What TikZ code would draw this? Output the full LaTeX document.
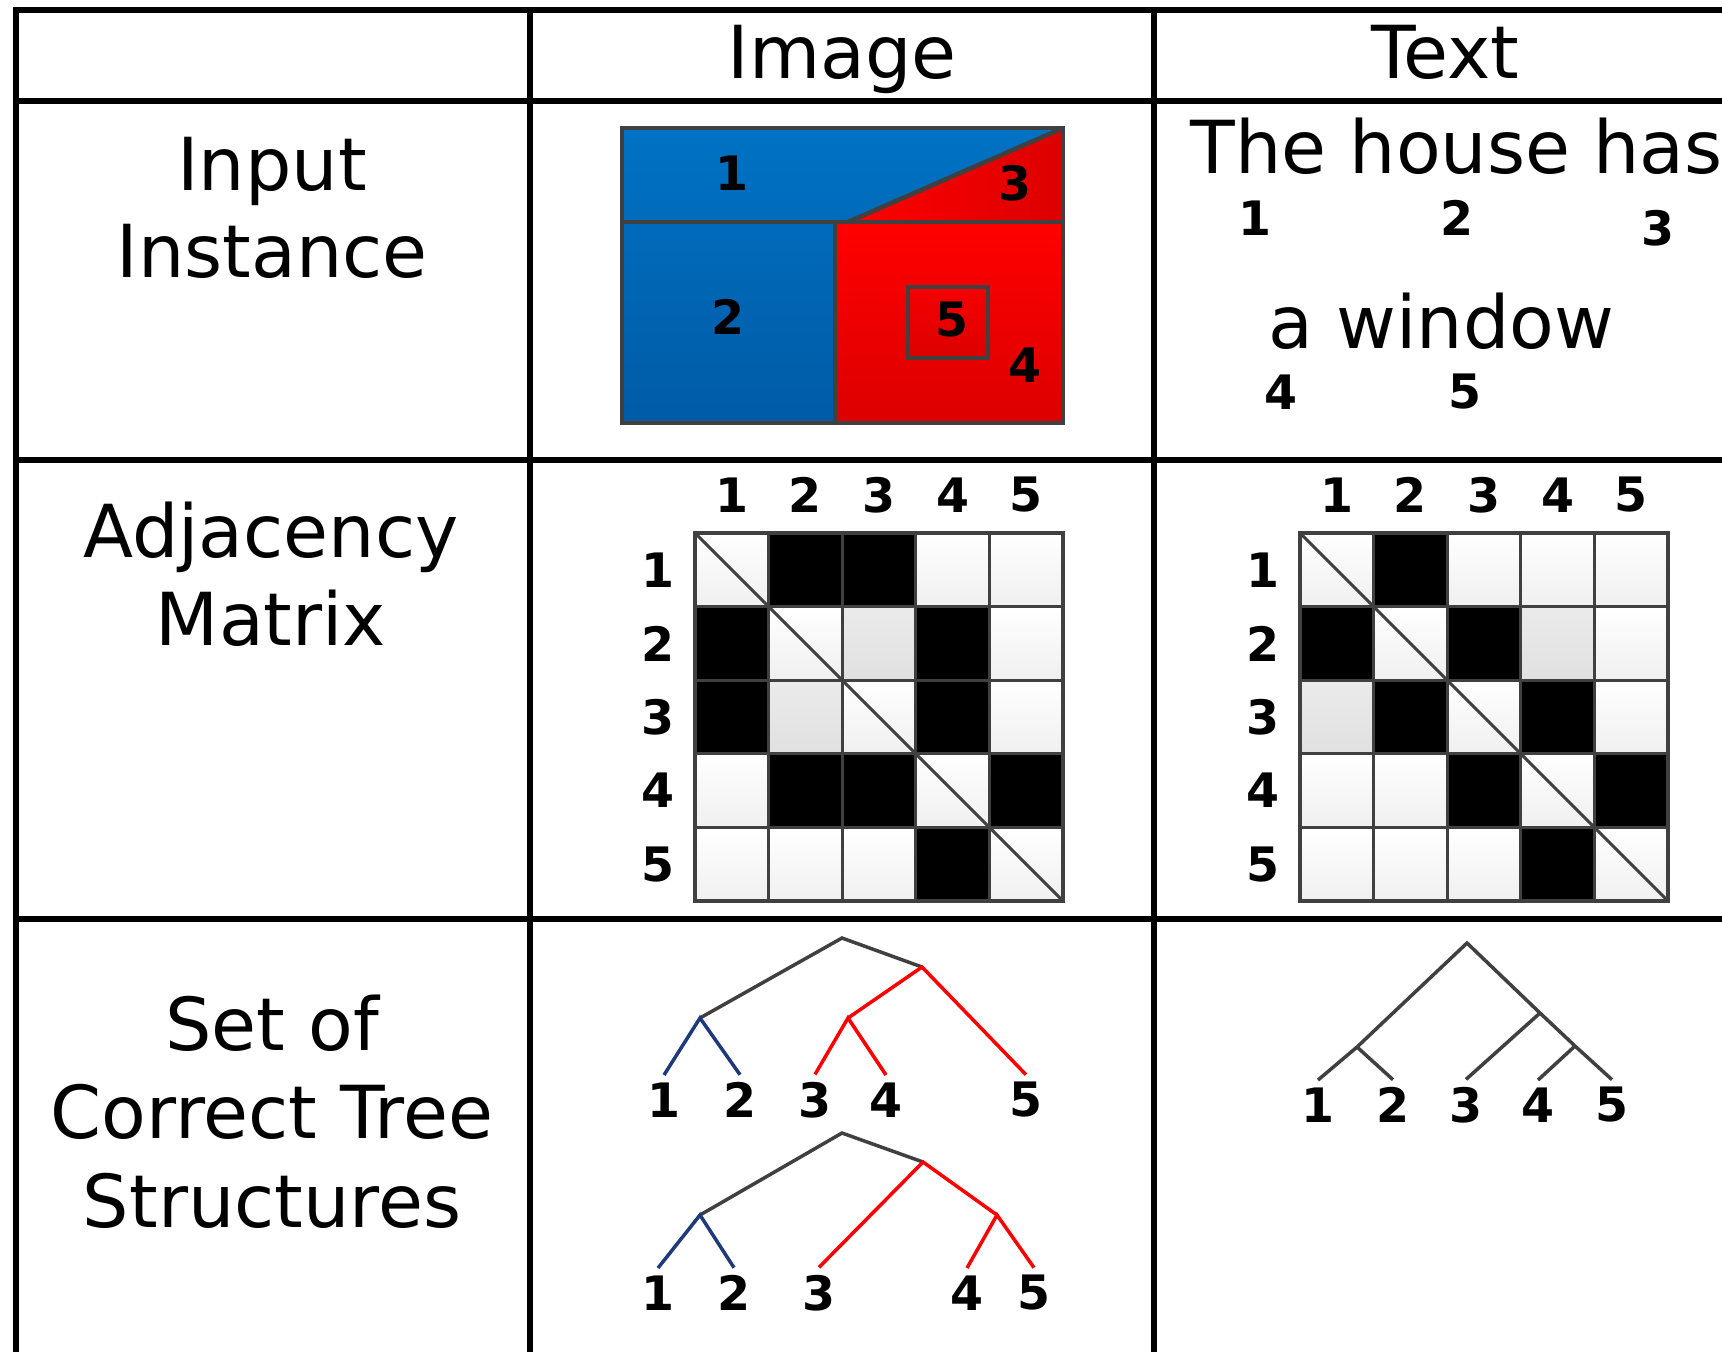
\documentclass[tikz,border=0pt]{standalone}
\usepackage{fontspec}
\setmainfont{DejaVu Sans}
\definecolor{edgegrey}{HTML}{404040}
\definecolor{regionblue}{HTML}{0072C4}
\definecolor{regionbluedark}{HTML}{005BA6}
\definecolor{regionred}{HTML}{FF0000}
\definecolor{regionreddark}{HTML}{DC0000}
\definecolor{treenavy}{HTML}{1F3A7A}

\tikzset{
	tablerule/.style={line width=0.6mm, black},
	headtext/.style={anchor=base, inner sep=0pt, font=\fontsize{20.8}{25}\selectfont},
	numlabel/.style={inner sep=0.7mm, font=\fontsize{13.5}{16}\selectfont\bfseries},
	outline/.style={draw=edgegrey, line width=0.45mm},
	gridrule/.style={edgegrey, line width=0.3mm},
	blankcell/.style={top color=white, bottom color=black!6},
	palecell/.style={top color=black!8, bottom color=black!12},
	trunk/.style={edgegrey, line width=0.35mm},
	leftbranch/.style={treenavy, line width=0.35mm},
	rightbranch/.style={regionred, line width=0.35mm},
}

\begin{document}
\begin{tikzpicture}[x=0.1mm, y=-0.1mm]
	\useasboundingbox (0,0) rectangle (1722,1352);
	\fill[white] (0,0) rectangle (1722,1352);

	% table rules
	\draw[tablerule] (1722,10) -- (16,10) -- (16,1352);
	\foreach \y in {101,460,919}
		\draw[tablerule] (16,\y) -- (1722,\y);
	\foreach \x in {530,1154}
		\draw[tablerule] (\x,10) -- (\x,1352);

	% headers
	\node[headtext] (hdimage) at (842,78) {Image};
	\node[headtext] (hdtext) at (1445,78) {Text};
	\node[headtext] (rowin1) at (272,190) {Input};
	\node[headtext] (rowin2) at (272,277) {Instance};
	\node[headtext] (rowadj1) at (271,557) {Adjacency};
	\node[headtext] (rowadj2) at (271,645) {Matrix};
	\node[headtext] (rowtree1) at (272,1050) {Set of};
	\node[headtext] (rowtree2) at (272,1138) {Correct Tree};
	\node[headtext] (rowtree3) at (272,1227) {Structures};

	% input image
	\fill[top color=regionblue, bottom color=regionbluedark] (622,128) -- (1063,128) -- (848,222) -- (835,222) -- (835,423) -- (622,423) -- cycle;
	\fill[top color=regionred, bottom color=regionreddark] (835,222) rectangle (1063,423);
	\fill[left color=regionred, right color=regionreddark] (848,222) -- (1063,128) -- (1063,222) -- cycle;
	\fill[top color=regionred!96!black, bottom color=regionreddark] (908,287) rectangle (988,358);
	\draw[outline] (622,128) rectangle (1063,423);
	\draw[outline] (622,222) -- (1063,222);
	\draw[outline] (835,222) -- (835,423);
	\draw[outline] (848,222) -- (1063,128);
	\draw[outline] (908,287) rectangle (988,358);
	\node[numlabel] (reg1) at (732,173) {1};
	\node[numlabel] (reg2) at (728,317) {2};
	\node[numlabel] (reg3) at (1015,183) {3};
	\node[numlabel] (reg4) at (1025,365) {4};
	\node[numlabel] (reg5) at (952,320) {5};

	% input sentence
	\node[headtext, anchor=base west] (sent1) at (1190,173) {The house has};
	\node[headtext, anchor=base west] (sent2) at (1268,348) {a window};
	\node[numlabel] (word1) at (1255,218) {1};
	\node[numlabel] (word2) at (1457,218) {2};
	\node[numlabel] (word3) at (1658,228) {3};
	\node[numlabel] (word4) at (1281,392) {4};
	\node[numlabel] (word5) at (1465,392) {5};

	% adjacency matrix of the image
	\begin{scope}[shift={(695,533)}]
		\foreach \r in {1,...,5}
			\foreach \c in {1,...,5}
				\fill[blankcell] ({(\c-1)*73.6},{(\r-1)*73.6}) rectangle ({\c*73.6},{\r*73.6});
		\foreach \r/\c in {1/2,1/3,2/1,2/4,3/1,3/4,4/2,4/3,4/5,5/4}
			\fill[black] ({(\c-1)*73.6},{(\r-1)*73.6}) rectangle ({\c*73.6},{\r*73.6});
		\foreach \r/\c in {2/3,3/2}
			\fill[palecell] ({(\c-1)*73.6},{(\r-1)*73.6}) rectangle ({\c*73.6},{\r*73.6});
		\foreach \k in {1,...,4} {
			\draw[gridrule] ({\k*73.6},0) -- ({\k*73.6},368);
			\draw[gridrule] (0,{\k*73.6}) -- (368,{\k*73.6});
		}
		\draw[gridrule] (0,0) -- (368,368);
		\draw[gridrule, line width=0.4mm] (0,0) rectangle (368,368);
		\foreach \k in {1,...,5} {
			\node[numlabel] (imgcol\k) at ({(\k-0.5)*73.6},-38) {\k};
			\node[numlabel] (imgrow\k) at (-37,{(\k-0.5)*73.6}) {\k};
		}
	\end{scope}

	% adjacency matrix of the sentence
	\begin{scope}[shift={(1300,533)}]
		\foreach \r in {1,...,5}
			\foreach \c in {1,...,5}
				\fill[blankcell] ({(\c-1)*73.6},{(\r-1)*73.6}) rectangle ({\c*73.6},{\r*73.6});
		\foreach \r/\c in {1/2,2/1,2/3,3/2,3/4,4/3,4/5,5/4}
			\fill[black] ({(\c-1)*73.6},{(\r-1)*73.6}) rectangle ({\c*73.6},{\r*73.6});
		\foreach \r/\c in {2/4,3/1}
			\fill[palecell] ({(\c-1)*73.6},{(\r-1)*73.6}) rectangle ({\c*73.6},{\r*73.6});
		\foreach \k in {1,...,4} {
			\draw[gridrule] ({\k*73.6},0) -- ({\k*73.6},368);
			\draw[gridrule] (0,{\k*73.6}) -- (368,{\k*73.6});
		}
		\draw[gridrule] (0,0) -- (368,368);
		\draw[gridrule, line width=0.4mm] (0,0) rectangle (368,368);
		\foreach \k in {1,...,5} {
			\node[numlabel] (txtcol\k) at ({(\k-0.5)*73.6},-38) {\k};
			\node[numlabel] (txtrow\k) at (-37,{(\k-0.5)*73.6}) {\k};
		}
	\end{scope}

	% image trees, first one
	\coordinate (ia0) at (842,938);
	\coordinate (ia1) at (700,1018);
	\coordinate (ia2) at (922,967);
	\coordinate (ia3) at (848,1018);
	\node[numlabel] (ial1) at (664,1100) {1};
	\node[numlabel] (ial2) at (740,1100) {2};
	\node[numlabel] (ial3) at (815,1100) {3};
	\node[numlabel] (ial4) at (886,1100) {4};
	\node[numlabel] (ial5) at (1026,1100) {5};
	\draw[trunk] (ia1) -- (ia0) -- (ia2);
	\draw[leftbranch] (ial1.north) -- (ia1) -- (ial2.north);
	\draw[rightbranch] (ial3.north) -- (ia3) -- (ial4.north);
	\draw[rightbranch] (ia3) -- (ia2) -- (ial5.north);

	% image trees, second one
	\coordinate (ib0) at (842,1133);
	\coordinate (ib1) at (700,1215);
	\coordinate (ib2) at (923,1162);
	\coordinate (ib3) at (997,1215);
	\node[numlabel] (ibl1) at (658,1293) {1};
	\node[numlabel] (ibl2) at (734,1293) {2};
	\node[numlabel] (ibl3) at (819,1293) {3};
	\node[numlabel] (ibl4) at (967,1293) {4};
	\node[numlabel] (ibl5) at (1034,1293) {5};
	\draw[trunk] (ib1) -- (ib0) -- (ib2);
	\draw[leftbranch] (ibl1.north) -- (ib1) -- (ibl2.north);
	\draw[rightbranch] (ibl3.north) -- (ib2) -- (ib3);
	\draw[rightbranch] (ibl4.north) -- (ib3) -- (ibl5.north);

	% sentence tree
	\coordinate (ta0) at (1467,943);
	\coordinate (ta1) at (1357,1047);
	\coordinate (ta2) at (1540,1013);
	\coordinate (ta3) at (1575,1046);
	\node[numlabel] (tal1) at (1318,1105) {1};
	\node[numlabel] (tal2) at (1393,1105) {2};
	\node[numlabel] (tal3) at (1466,1105) {3};
	\node[numlabel] (tal4) at (1538,1105) {4};
	\node[numlabel] (tal5) at (1612,1105) {5};
	\draw[trunk] (tal1.north) -- (ta1) -- (ta0) -- (ta2) -- (ta3) -- (tal5.north);
	\draw[trunk] (ta1) -- (tal2.north);
	\draw[trunk] (ta2) -- (tal3.north);
	\draw[trunk] (ta3) -- (tal4.north);
\end{tikzpicture}
\end{document}
